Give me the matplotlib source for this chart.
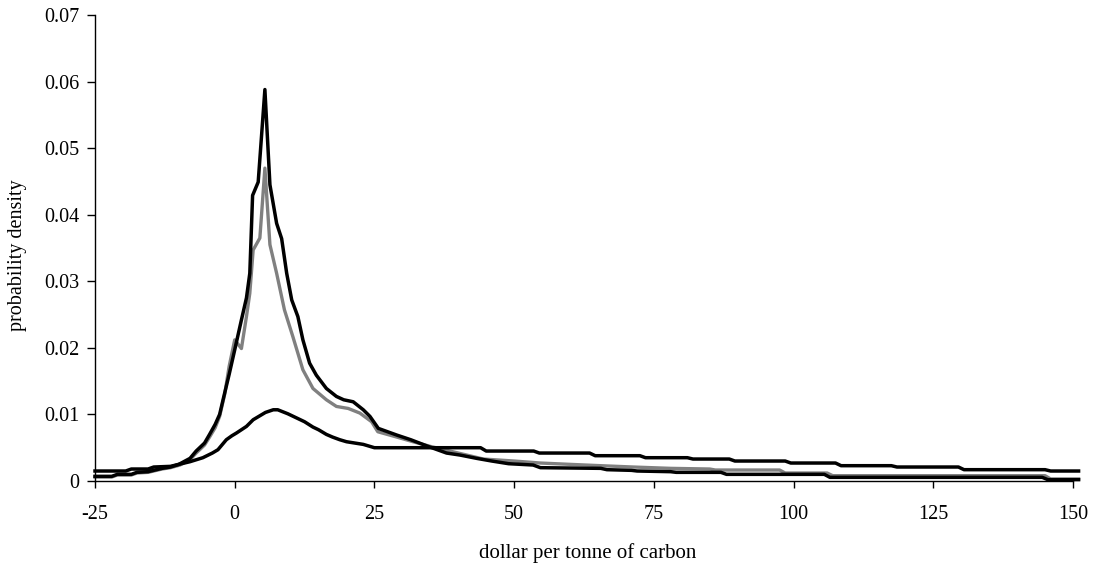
import numpy as np
import matplotlib
matplotlib.use("Agg")
import matplotlib.pyplot as plt

# dollar per tonne of carbon vs probability density, three curves

# black, sharp peak
peak_x = [-25, -22, -21, -18.5, -17.5, -15.5, -13, -11.5, -10, -8, -6.9, -5.4, -4.5, -3.5,
          -2.7, -2, -1, 0, 1.2, 2.1, 2.7, 3.2, 4.2, 5.4, 6.3, 7.5, 8.4, 9.3, 10.2, 11.3,
          12.2, 13.4, 14.6, 16.4, 18.2, 19.5, 21.2, 23, 24.2, 25.7, 29, 31.5, 34.6, 37.9,
          40.3, 43.3, 46, 49, 53.4, 54.7, 65.5, 66.6, 71, 72, 78, 79, 87, 88, 105.5, 106.5,
          144.5, 145.5, 151]
peak_y = [0.0007, 0.0007, 0.0010, 0.0010, 0.0013, 0.0014, 0.0019, 0.0021, 0.0025, 0.0034,
          0.0045, 0.0057, 0.0070, 0.0085, 0.0100, 0.0125, 0.0160, 0.0197, 0.0242, 0.0275,
          0.0312, 0.0429, 0.0449, 0.0588, 0.0445, 0.0387, 0.0364, 0.0312, 0.0272, 0.0247,
          0.0212, 0.0177, 0.0159, 0.0139, 0.0127, 0.0122, 0.0119, 0.0107, 0.0097, 0.0079,
          0.0069, 0.0062, 0.0052, 0.0042, 0.0039, 0.0034, 0.0030, 0.0026, 0.0024, 0.0020,
          0.0019, 0.0017, 0.0016, 0.0015, 0.0014, 0.0013, 0.0013, 0.0010, 0.0010, 0.00055,
          0.00055, 0.0002, 0.0002]

# grey, middle peak
grey_x = [-25, -22, -21, -18.5, -17.5, -15.5, -13, -11.5, -9.8, -8, -6.9, -5.4, -4.5, -3.5,
          -2.7, -1.8, -1, 0, 1.2, 2.1, 2.7, 3.3, 4.5, 5.4, 6.3, 7.5, 8.9, 10.4, 12.2, 14,
          16.4, 18.2, 20.3, 22.4, 24.5, 25.6, 29, 31.9, 35, 40, 44.5, 50, 54.7, 60, 65.5,
          71.3, 78, 85, 86, 97.5, 98.5, 106, 107, 145, 146, 151]
grey_y = [0.0006, 0.0006, 0.0009, 0.0009, 0.0012, 0.0013, 0.0018, 0.0020, 0.0024, 0.0032,
          0.0042, 0.0054, 0.0066, 0.0080, 0.0097, 0.0130, 0.0172, 0.0212, 0.0199, 0.0247,
          0.0282, 0.0347, 0.0365, 0.0470, 0.0355, 0.0312, 0.0257, 0.0217, 0.0167, 0.0139,
          0.0122, 0.0112, 0.0109, 0.0102, 0.0089, 0.0074, 0.0066, 0.0059, 0.0052, 0.0042,
          0.0033, 0.0030, 0.0027, 0.0025, 0.0023, 0.0021, 0.0019, 0.0018, 0.00165, 0.00165,
          0.0012, 0.0012, 0.0008, 0.0008, 0.0003, 0.0003]

# black, broad with heavy tail
broad_x = [-25, -19.5, -18.5, -15.5, -14.5, -11.5, -10, -8, -5.7, -4, -3, -2, -1.5, -0.5,
           0.3, 2.1, 3.3, 4.5, 5.5, 6.9, 7.7, 9.5, 11, 12.5, 14, 15, 16.4, 17.5, 18.8, 20,
           21.5, 23, 25, 44, 45, 53.5, 54.5, 63.5, 64.5, 72.5, 73.5, 81, 82, 88.5, 89.5,
           98.5, 99.5, 107.5, 108.5, 117.5, 118.5, 129.5, 130.5, 145, 146, 151]
broad_y = [0.0015, 0.0015, 0.0018, 0.0018, 0.0021, 0.0022, 0.0025, 0.0029, 0.0035, 0.0042,
           0.0047, 0.0057, 0.0062, 0.0068, 0.0072, 0.0082, 0.0092, 0.0098, 0.0103, 0.0107,
           0.0107, 0.0101, 0.0095, 0.0089, 0.0081, 0.0077, 0.0070, 0.0066, 0.0062, 0.0059,
           0.0057, 0.0055, 0.0050, 0.0050, 0.0045, 0.0045, 0.0042, 0.0042, 0.0038, 0.0038,
           0.0035, 0.0035, 0.0033, 0.0033, 0.0030, 0.0030, 0.0027, 0.0027, 0.0023, 0.0023,
           0.0021, 0.0021, 0.0017, 0.0017, 0.0015, 0.0015]

x_ticks = [-25, 0, 25, 50, 75, 100, 125, 150]
y_ticks = [0, 0.01, 0.02, 0.03, 0.04, 0.05, 0.06, 0.07]
y_labels = ['0', '0.01', '0.02', '0.03', '0.04', '0.05', '0.06', '0.07']

plt.rcParams['font.family'] = ['Liberation Serif', 'DejaVu Serif']

fig = plt.figure(figsize=(11.03, 5.72), dpi=100)
ax = fig.add_axes([95 / 1103, 1 - 481 / 572, 978 / 1103, 466 / 572])

ax.plot(grey_x, grey_y, color='#808080', lw=2.4, clip_on=False, solid_joinstyle='round')
ax.plot(peak_x, peak_y, color='black', lw=2.5, clip_on=False, solid_joinstyle='round')
ax.plot(broad_x, broad_y, color='black', lw=2.5, clip_on=False, solid_joinstyle='round')

ax.set_xlim(-25, 150)
ax.set_ylim(0, 0.07)
ax.set_xticks(x_ticks)
ax.set_xticklabels([str(t) for t in x_ticks])
ax.set_yticks(y_ticks)
ax.set_yticklabels(y_labels)

for s in ['top', 'right']:
    ax.spines[s].set_visible(False)
for s in ['left', 'bottom']:
    ax.spines[s].set_linewidth(1.0)

ax.tick_params(axis='x', direction='out', length=5, width=1, pad=12, labelsize=14.5)
ax.tick_params(axis='y', direction='out', length=5.5, width=1, pad=6, labelsize=14.5)

fig.text(17.5 / 1103, 1 - 255 / 572, 'probability density', rotation=90,
         ha='center', va='center', fontsize=14.5)
fig.text(587.5 / 1103, 1 - 553 / 572, 'dollar per tonne of carbon',
         ha='center', va='center', fontsize=15)

fig.savefig('out.png', dpi=100)
